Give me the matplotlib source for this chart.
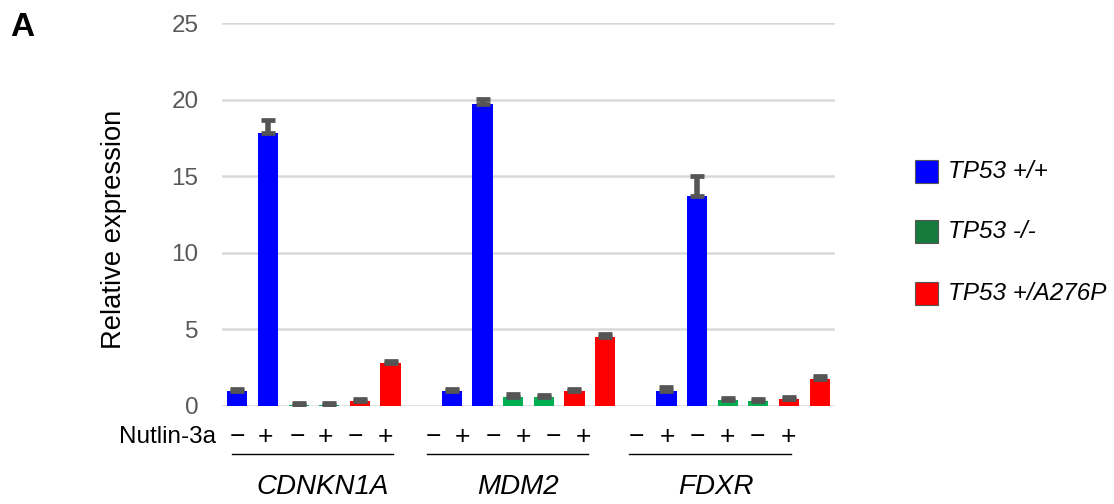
import matplotlib
matplotlib.use("Agg")
import matplotlib.pyplot as plt
from matplotlib.patches import Rectangle
import numpy as np

plt.rcParams['font.family'] = ['Liberation Sans', 'DejaVu Sans']

genes = ["CDNKN1A", "MDM2", "FDXR"]
series = ["TP53 +/+", "TP53 -/-", "TP53 +/A276P"]
treatment = ["−", "+", "−", "+", "−", "+"]

# values per gene: (+/+ -, +/+ +, -/- -, -/- +, A276P -, A276P +)
values = {
    "CDNKN1A": [0.98, 17.85, 0.05, 0.05, 0.33, 2.79],
    "MDM2":    [0.98, 19.72, 0.61, 0.60, 0.98, 4.52],
    "FDXR":    [0.98, 13.70, 0.37, 0.33, 0.48, 1.76],
}
errors = {
    "CDNKN1A": [0.15, 0.80, 0.12, 0.12, 0.13, 0.17],
    "MDM2":    [0.15, 0.30, 0.15, 0.15, 0.15, 0.20],
    "FDXR":    [0.25, 1.30, 0.15, 0.10, 0.12, 0.18],
}

bar_colors = ["#0000FF", "#0000FF", "#00B050", "#00B050", "#FF0000", "#FF0000"]
legend_colors = ["#0000FF", "#177B3D", "#FF0000"]

W, H = 1114, 504
fig = plt.figure(figsize=(W / 100, H / 100), dpi=100)
ax = fig.add_axes([222 / W, 98 / H, 613 / W, 383 / H])

group_start = [0, 7, 14]
for g, start in zip(genes, group_start):
    xs = np.arange(6) + start
    ax.bar(xs, values[g], width=0.66, color=bar_colors, zorder=3)
    ax.errorbar(xs, values[g], yerr=[np.zeros(6), errors[g]], fmt='none',
                ecolor="#555555", elinewidth=4.0, capsize=5.0, capthick=3.4, zorder=4)

ax.set_xlim(-0.5, 19.5)
ax.set_ylim(0, 25)
ax.set_yticks([0, 5, 10, 15, 20, 25])
ax.yaxis.grid(True, color="#D9D9D9", linewidth=1.8, zorder=0)
ax.set_axisbelow(True)
for s in ax.spines.values():
    s.set_visible(False)
ax.tick_params(axis='y', length=0, labelsize=17.5, labelcolor="#595959", pad=17)
ax.tick_params(axis='x', length=0)
ax.set_xticks([])
ax.set_ylabel("Relative expression", fontsize=19.7)
ax.yaxis.set_label_coords(-0.155, 0.46)

# treatment sign labels
sign_x = [
    [0, 0.93, 1.96, 2.87, 3.85, 4.83],
    [6.39, 7.34, 8.35, 9.33, 10.31, 11.29],
    [13.02, 14.03, 15.01, 15.99, 16.97, 17.98],
]
line_x = [(-0.16, 5.09), (6.2, 11.45), (12.79, 18.08)]
name_x = [2.8, 9.17, 15.63]
trans = ax.get_xaxis_transform()
for i, g in enumerate(genes):
    for x, t in zip(sign_x[i], treatment):
        ax.text(x, -0.081, t, transform=trans, ha='center', va='center',
                fontsize=19, color='black')
    ax.plot(line_x[i], [-0.125, -0.125], transform=trans, color='black',
            linewidth=1.0, clip_on=False)
    ax.text(name_x[i], -0.211, g, transform=trans, ha='center', va='center',
            fontsize=20, style='italic')
ax.text(-0.68, -0.081, "Nutlin-3a", transform=trans, ha='right', va='center',
        fontsize=17.5)

# legend (drawn manually in figure pixels)
legend_tops = [160, 220, 282]
for c, label, top in zip(legend_colors, series, legend_tops):
    fig.add_artist(Rectangle((915 / W, 1 - (top + 23) / H), 23 / W, 23 / H,
                             transform=fig.transFigure, facecolor=c,
                             edgecolor="#555555", linewidth=0.8))
    fig.text(948 / W, 1 - (top + 12) / H, label, fontsize=17.5, style='italic',
             ha='left', va='center')

fig.text(10 / W, 1 - 28 / H, "A", fontsize=24, fontweight='bold', va='center', ha='left')

fig.savefig("out.png", dpi=100)
